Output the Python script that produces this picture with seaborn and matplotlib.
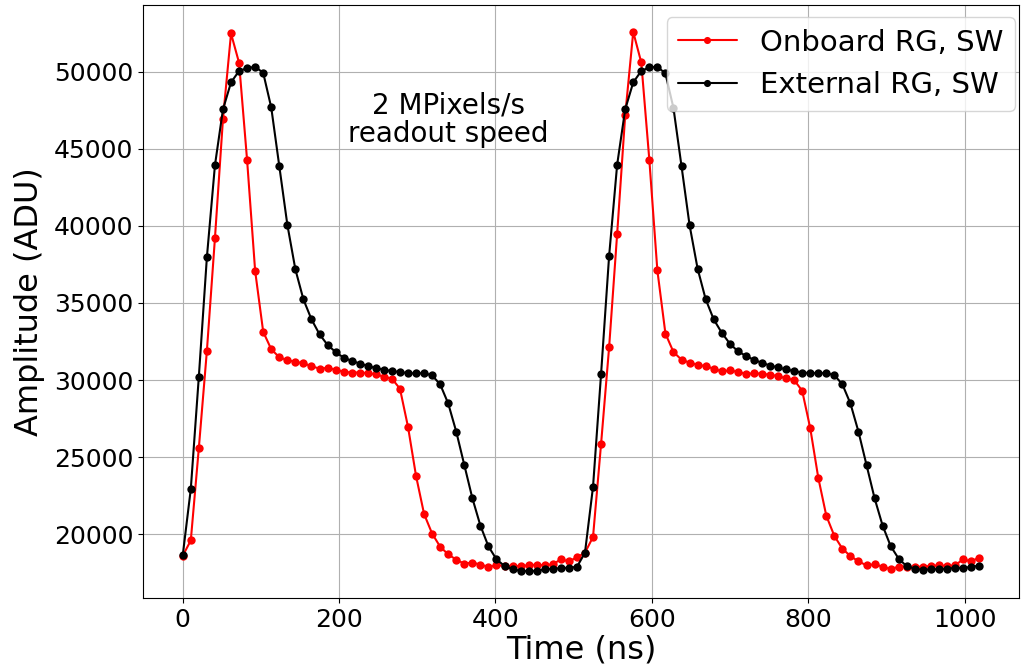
import numpy as np
import pandas as pd
import matplotlib
matplotlib.use("Agg")
import matplotlib.pyplot as plt
import seaborn as sns

# sampling grid (ns)
sample_step_ns = 10.29
n_samples = 100

onboard_rg_sw = [
    18600, 19600, 25600, 31900, 39200, 46950, 52480, 50580, 44250, 37070,
    33130, 32000, 31480, 31290, 31180, 31090, 30900, 30740, 30790, 30670,
    30530, 30490, 30490, 30450, 30370, 30220, 30090, 29440, 26970, 23780,
    21310, 20040, 19190, 18690, 18350, 18090, 18160, 18030, 17880, 17980,
    17960, 17920, 17940, 17980, 18030, 17980, 18050, 18370, 18240, 18500,
    18800, 19820, 25850, 32120, 39480, 47170, 52580, 50600, 44290, 37110,
    33020, 31820, 31320, 31130, 30990, 30900, 30740, 30560, 30630, 30530,
    30400, 30440, 30410, 30340, 30260, 30110, 30000, 29310, 26890, 23670,
    21200, 19890, 19060, 18580, 18240, 17980, 18050, 17900, 17730, 17900,
    17900, 17880, 17900, 17940, 17980, 17940, 17980, 18370, 18240, 18480,
]

external_rg_sw = [
    18640, 22940, 30230, 37970, 43930, 47560, 49310, 50050, 50230, 50320,
    49930, 47680, 43880, 40080, 37180, 35230, 33940, 32970, 32280, 31820,
    31450, 31250, 31070, 30920, 30770, 30670, 30580, 30520, 30450, 30430,
    30450, 30300, 29720, 28480, 26650, 24490, 22340, 20560, 19210, 18370,
    17940, 17730, 17620, 17620, 17620, 17730, 17770, 17790, 17830, 17880,
    18800, 23070, 30380, 38040, 43970, 47560, 49310, 50050, 50280, 50320,
    49890, 47650, 43880, 40060, 37230, 35250, 33940, 33070, 32370, 31870,
    31570, 31310, 31120, 30940, 30820, 30690, 30580, 30490, 30450, 30450,
    30450, 30320, 29720, 28480, 26650, 24490, 22340, 20560, 19230, 18410,
    17920, 17770, 17680, 17730, 17730, 17770, 17810, 17810, 17880, 17960,
]

series_labels = ["Onboard RG, SW", "External RG, SW"]
series_colors = ["red", "black"]
x_label = "Time (ns)"
y_label = "Amplitude (ADU)"
annotation = "2 MPixels/s\nreadout speed"

time_ns = np.arange(n_samples) * sample_step_ns

sns.set_theme(style="ticks")
plt.rcParams['font.family'] = ['DejaVu Sans']
plt.rcParams.update({
    "text.color": "black",
    "axes.labelcolor": "black",
    "xtick.color": "black",
    "ytick.color": "black",
    "axes.edgecolor": "black",
})

fig = plt.figure(figsize=(10.21, 6.68), dpi=100)
ax = fig.add_axes([0.140, 0.105, 0.858, 0.8875])

for vals, lab, col in zip([onboard_rg_sw, external_rg_sw], series_labels, series_colors):
    df = pd.DataFrame({"t": time_ns, "a": vals})
    sns.lineplot(data=df, x="t", y="a", ax=ax, color=col, marker="o",
                 markersize=6, markeredgewidth=0, linewidth=1.5, label=lab,
                 sort=False, errorbar=None)

ax.grid(True, color="#b0b0b0", linewidth=0.8)
ax.set_axisbelow(True)
for s in ax.spines.values():
    s.set_color("black")
    s.set_linewidth(0.8)

ax.set_xticks([0, 200, 400, 600, 800, 1000])
ax.set_yticks([20000, 25000, 30000, 35000, 40000, 45000, 50000])
ax.tick_params(axis="both", labelsize=18, colors="black", length=3.5, width=0.8)
ax.set_xlabel(x_label, fontsize=23, labelpad=2)
ax.set_ylabel(y_label, fontsize=23, labelpad=6)

ax.text(340, 46900, annotation, fontsize=20, ha="center", va="center",
        linespacing=1.0, color="black")

leg = ax.legend(loc="upper right", bbox_to_anchor=(0.9954, 0.98),
                borderaxespad=0, fontsize=21, frameon=True, framealpha=0.8,
                edgecolor="0.8", fancybox=True, handlelength=2.0,
                markerscale=0.85)
for t in leg.get_texts():
    t.set_color("black")

fig.savefig("out.png", dpi=100)
